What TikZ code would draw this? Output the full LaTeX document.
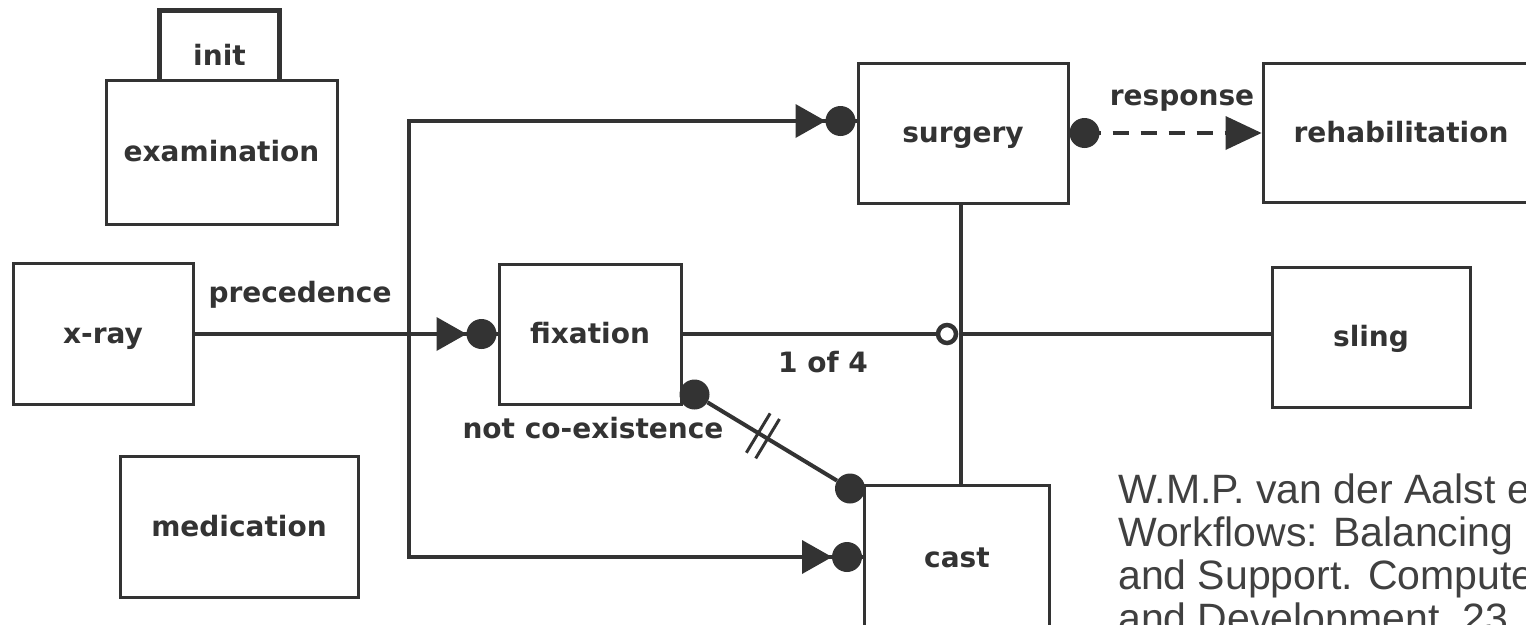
\documentclass[tikz,border=0pt]{standalone}
\usepackage{fontspec}
\setmainfont{DejaVu Sans}
\newfontfamily\citefont{Liberation Sans}
\usetikzlibrary{calc}
\definecolor{ink}{HTML}{333333}
\definecolor{citeink}{HTML}{404040}
\begin{document}
\begin{tikzpicture}[x=1pt,y=-1pt,
  box/.style={draw=ink, line width=3pt, fill=white, inner sep=0pt, text=ink,
    text height=18pt, text depth=0pt,
    font=\fontsize{28}{34}\selectfont\bfseries},
  lbl/.style={inner sep=0pt, text=ink, font=\fontsize{28}{34}\selectfont\bfseries},
  conn/.style={draw=ink, line width=4.5pt},
  dot/.style={circle, fill=ink, inner sep=0pt, minimum size=30pt},
  ring/.style={circle, draw=ink, fill=white, line width=4.5pt, inner sep=0pt, minimum size=18pt},
  cite/.style={inner sep=0pt, anchor=base west, text=citeink, font=\citefont\fontsize{41}{44}\selectfont},
  precmark/.pic={
    \fill[ink] (-16,0) circle (15);
    \fill[ink] (-31,0) -- (-61,17) -- (-61,-17) -- cycle;
  },
  respmark/.pic={
    \fill[ink] (0,0) -- (-36,17) -- (-36,-17) -- cycle;
  }]
\useasboundingbox (0,0) rectangle (1526,624);
\fill[white] (0,0) rectangle (1526,624);

% activities
\node[box, draw=none, text height=38pt, minimum width=117pt, minimum height=68pt] (init) at (219.5,46) {init};
\node[box, minimum width=231pt, minimum height=144pt] (exam) at (221.5,152) {examination};
\draw[ink, line width=5pt] (init.south west) -- (init.north west) -- (init.north east) -- (init.south east);
\node[box, minimum width=180pt, minimum height=141pt] (xray) at (103,334) {x-ray};
\node[box, minimum width=238pt, minimum height=141pt] (med) at (239,527) {medication};
\node[box, minimum width=182pt, minimum height=140pt] (fix) at (590,334) {fixation};
\node[box, minimum width=210pt, minimum height=140pt] (surg) at (963,133) {surgery};
\node[box, minimum width=276pt, minimum height=139pt] (rehab) at (1401,133) {rehabilitation};
\node[box, minimum width=198pt, minimum height=140pt] (sling) at (1371,337) {sling};
\node[box, minimum width=185pt, minimum height=146pt] (cast) at (957,558) {cast};

% precedence: x-ray before fixation, surgery and cast
\coordinate (busT) at (409,121);
\coordinate (busB) at (409,557);
\draw[conn] (xray.east) -- (fix.west);
\draw[conn] (busT -| surg.west) -- (busT) -- (busB) -- (busB -| cast.west);
\pic at (fix.west) {precmark};
\pic at (busT -| surg.west) {precmark};
\pic at (busB -| cast.west) {precmark};
\node[lbl] (lprec) at (300,295) {precedence};

% response: surgery followed by rehabilitation
\draw[conn, dash pattern=on 16pt off 12pt] ([xshift=15pt]surg.east) -- ([xshift=-34pt]rehab.west |- surg.east);
\fill[ink] ([xshift=15pt]surg.east) circle (15);
\pic at (rehab.west |- surg.east) {respmark};
\node[lbl] (lresp) at (1182,101) {response};

% 1 of 4 choice
\coordinate (vx) at (961,334);
\draw[conn] (fix.east) -- (947,334);
\draw[conn] (vx) -- (sling.west |- vx);
\draw[conn, line width=4pt] (surg.south -| vx) -- (cast.north -| vx);
\node[ring] (oc) at (947,334) {};
\node[lbl] (lone) at (823,362) {1 of 4};

% not co-existence: fixation and cast
\node[dot] (d1) at ([shift={(12,-11)}]fix.south east) {};
\node[dot] (d2) at ([shift={(-13,5)}]cast.north west) {};
\draw[conn, line width=4pt] (d1) -- (d2);
\coordinate (t1) at ($(d1)!0.41!(d2)$);
\coordinate (t2) at ($(d1)!0.47!(d2)$);
\draw[ink, line width=3pt] ($(t1)!23pt!90:(d2)$) -- ($(t1)!23pt!-90:(d2)$);
\draw[ink, line width=3pt] ($(t2)!23pt!90:(d2)$) -- ($(t2)!23pt!-90:(d2)$);
\node[lbl] (lnot) at (593,428) {not co-existence};

% reference
\node[cite] (c1) at (1118,503) {W.M.P. van der Aalst e};
\node[cite] (c2) at (1118,546) {Workflows: Balancing};
\node[cite] (c3) at (1118,589) {and Support. Compute};
\node[cite] (c4) at (1118,632) {and Development, 23};
\end{tikzpicture}
\end{document}
